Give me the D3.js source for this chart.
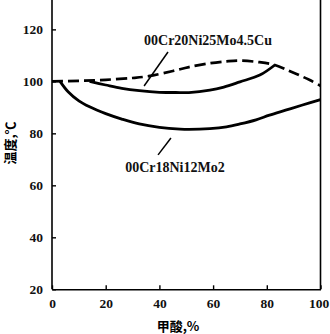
<!DOCTYPE html>
<html><head><meta charset="utf-8">
<script src="https://cdn.jsdelivr.net/npm/d3@7"></script>
<style>body{margin:0;background:#fff}svg{display:block}</style>
</head><body>
<svg id="c" width="330" height="334"></svg>
<script>
const xTicks = [0, 20, 40, 60, 80, 100];
const yTicks = [20, 40, 60, 80, 100, 120];
const dashedX = [0, 10, 20, 30, 36, 45, 51, 59, 65, 70, 77, 83, 88, 92, 96, 100];
const dashedY = [100, 100.2, 100.6, 101.3, 102, 104, 105.5, 107, 107.7, 108, 107.4, 106.3, 104.2, 102.4, 100.5, 98.3];
const cuSolidX = [14, 20, 26, 32.5, 40, 47.7, 51, 58.8, 64, 70, 77.4, 83];
const cuSolidY = [100, 98.6, 97.3, 96.4, 95.8, 95.7, 95.7, 96.6, 97.8, 99.8, 102.4, 106.3];
const moX = [3, 6, 10, 14, 20, 26, 32.5, 40, 47.7, 51, 58.8, 65, 70, 76, 81, 87, 93, 100];
const moY = [100, 96, 92.5, 90.2, 87.6, 85.5, 83.6, 82.3, 81.6, 81.5, 81.8, 82.5, 83.6, 85.2, 87, 88.9, 90.8, 93];
const labels = [{text: "00Cr20Ni25Mo4.5Cu", x: 58.1, y: 114}, {text: "00Cr18Ni12Mo2", x: 45.8, y: 65.3}];
const leaders = [[[43.2, 111.3], [34.3, 98.2]], [[44.3, 78.2], [39.5, 71.7]]];

const svg = d3.select("#c");
const x = d3.scaleLinear().domain([0, 100]).range([52, 320.5]);
const y = d3.scaleLinear().domain([20, 131.3]).range([289.3, 0]);
const font = "'Liberation Serif','DejaVu Serif',serif";

const line = d3.line().x(d => x(d[0])).y(d => y(d[1])).curve(d3.curveCatmullRom.alpha(0.5));

// axes
const xa = svg.append("g").attr("transform", `translate(0,${y(20)})`)
  .call(d3.axisBottom(x).tickValues(xTicks).tickSizeInner(-4).tickSizeOuter(0).tickPadding(9));
const ya = svg.append("g").attr("transform", `translate(${x(0)},0)`)
  .call(d3.axisLeft(y).tickValues(yTicks).tickSizeInner(-4).tickSizeOuter(0).tickPadding(9));
[xa, ya].forEach(a => {
  a.select(".domain").attr("stroke", "#000").attr("stroke-width", 1.6);
  a.selectAll(".tick line").attr("stroke", "#000").attr("stroke-width", 1.4);
  a.selectAll("text").attr("font-family", font).attr("font-size", 13.5).attr("font-weight", "bold").attr("fill", "#111");
});
xa.selectAll(".tick text").filter(d => d === 100).attr("dx", -2);
ya.select(".domain").attr("d", `M0,${y(20)}V0`);
svg.append("line").attr("x1", x(100)).attr("x2", x(100)).attr("y1", 0).attr("y2", y(20))
  .attr("stroke", "#000").attr("stroke-width", 1.6);

// curves
svg.append("path").attr("d", line(dashedX.map((v, i) => [v, dashedY[i]])))
  .attr("fill", "none").attr("stroke", "#000").attr("stroke-width", 2.7).attr("stroke-dasharray", "11,5");
svg.append("path").attr("d", line(cuSolidX.map((v, i) => [v, cuSolidY[i]])))
  .attr("fill", "none").attr("stroke", "#000").attr("stroke-width", 2.8);
svg.append("path").attr("d", line(moX.map((v, i) => [v, moY[i]])))
  .attr("fill", "none").attr("stroke", "#000").attr("stroke-width", 2.8);

// leaders & labels
leaders.forEach(l => svg.append("line").attr("x1", x(l[0][0])).attr("y1", y(l[0][1]))
  .attr("x2", x(l[1][0])).attr("y2", y(l[1][1])).attr("stroke", "#000").attr("stroke-width", 1.5));
labels.forEach(l => svg.append("text").attr("x", x(l.x)).attr("y", y(l.y)).attr("text-anchor", "middle")
  .attr("font-family", font).attr("font-size", 14).attr("font-weight", "bold").attr("fill", "#111").text(l.text));

// titles
svg.append("text").attr("x", 178).attr("y", 331).attr("text-anchor", "middle")
  .attr("font-family", "'Noto Sans CJK SC',sans-serif").attr("font-size", 13).attr("font-weight", "bold").text("甲酸,%");
svg.append("text").attr("transform", "translate(15,143) rotate(-90)").attr("text-anchor", "middle")
  .attr("font-family", "'Noto Sans CJK SC',sans-serif").attr("font-size", 13).attr("font-weight", "bold").text("温度,℃");
</script>
</body></html>
